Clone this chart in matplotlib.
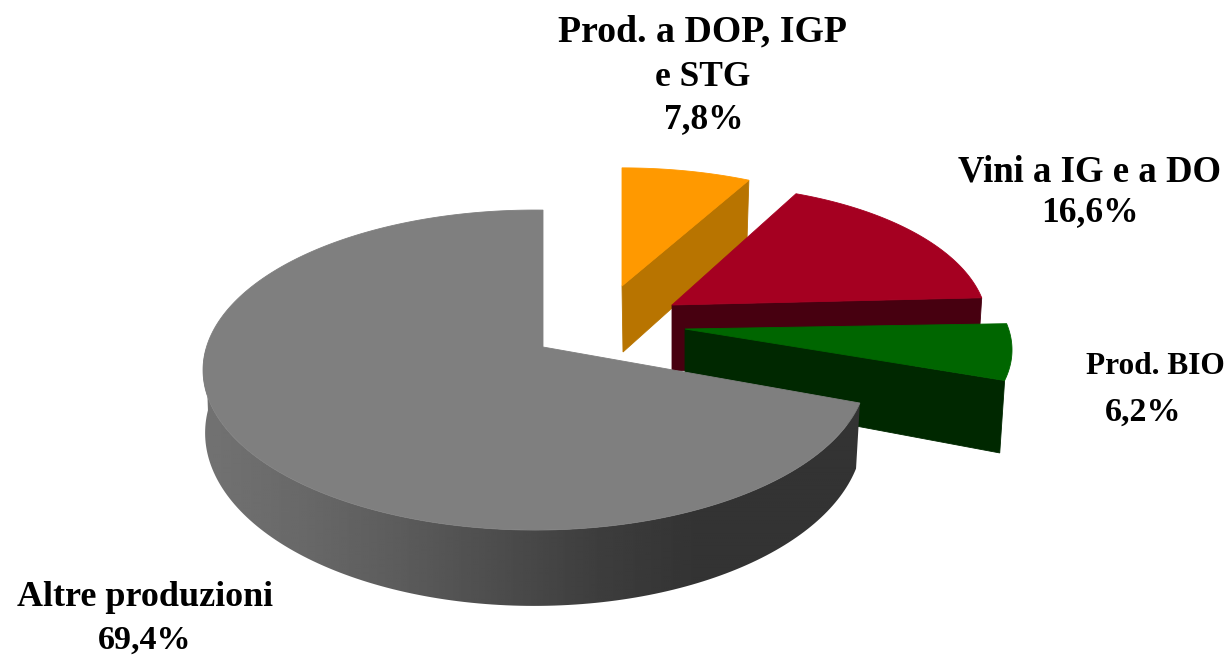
import numpy as np
import matplotlib
matplotlib.use("Agg")
import matplotlib.pyplot as plt
from matplotlib.patches import Polygon

# ---- data ----
categories = ["Prod. a DOP, IGP e STG", "Vini a IG e a DO", "Prod. BIO", "Altre produzioni"]
values = [7.8, 16.6, 6.2, 69.4]
label_lines = [
    ["Prod. a DOP, IGP", "e STG", "7,8%"],
    ["Vini a IG e a DO", "16,6%"],
    ["Prod. BIO", "6,2%"],
    ["Altre produzioni", "69,4%"],
]

# ---- style / layout ----
top_colors = ["#FF9900", "#A50021", "#006600", "#7F7F7F"]
wall_colors = ["#B87400", "#470010", "#002800", None]
# apex of top face x, y, rx, ry; apex of bottom face x, y, rx, ry
geometry = [
    ((622, 286, 307, 138), (623, 352, 300, 145)),
    ((672, 305, 292, 140), (672, 371, 288, 146)),
    ((685, 329, 327, 145), (685, 394, 322, 166)),
    ((543, 347, 332, 160), (542, 408, 329, 173)),
]
boost_u = [0.0, -0.08, 0.0, 0.024]
label_pos = [
    [(702, 32), (703, 77), (704, 120)],
    [(1090, 172), (1090, 213)],
    [(1155, 367), (1143, 412)],
    [(145, 598), (145, 640)],
]
label_size = [
    [27.2, 25.5, 25.5],
    [26.5, 25.5],
    [22.6, 24.5],
    [25.9, 24.5],
]
BOOST_V = 0.144


def disc(theta_deg, b):
    """Unit-circle direction seen through the chart's perspective."""
    t = np.radians(theta_deg)
    u, v = np.cos(t), np.sin(t)
    d = 1 + BOOST_V * v
    v1 = (v + BOOST_V) / d
    u1 = u * np.sqrt(1 - BOOST_V ** 2) / d
    d = 1 + b * u1
    return (u1 + b) / d - b, v1 * np.sqrt(1 - b ** 2) / d - BOOST_V


def project(theta_deg, g, b):
    u, v = disc(theta_deg, b)
    return np.column_stack([g[0] + g[2] * u, g[1] - g[3] * v])


fig = plt.figure(figsize=(12.29, 6.56), dpi=100, facecolor="white")
ax = fig.add_axes([0, 0, 1, 1])
ax.set_axis_off()

# wedge angles, clockwise from twelve o'clock
shares = np.array(values) / np.sum(values) * 360
ends = 90 - np.cumsum(shares)
starts = ends + shares

for i in range(len(values)):
    gt, gb = geometry[i]
    b = boost_u[i]
    arc = np.linspace(starts[i], ends[i], 240)
    top_arc = project(arc, gt, b)
    apex_t = np.array([[gt[0], gt[1]]])
    apex_b = np.array([[gb[0], gb[1]]])
    if wall_colors[i] is not None:
        # radial wall facing the viewer, at the clockwise end of the wedge
        wall = np.vstack([apex_t, top_arc[-1:], project(np.array([ends[i]]), gb, b), apex_b])
        ax.add_patch(Polygon(wall, closed=True, fc=wall_colors[i], ec=wall_colors[i], lw=0.6, zorder=i * 2 + 1))
    else:
        # outer rim, only where it faces the viewer, shaded left to right
        front = arc[arc >= -180]
        rim = np.vstack([project(front, gt, b), project(front, gb, b)[::-1]])
        poly = Polygon(rim, closed=True, fc="none", ec="none", zorder=i * 2 + 1)
        ax.add_patch(poly)
        xs = np.linspace(200, 860, 330)
        shade = np.interp(xs, [200, 300, 400, 500, 600, 700, 860], [0.45, 0.41, 0.36, 0.30, 0.24, 0.20, 0.20])
        im = ax.imshow(shade[None, :], cmap="gray", vmin=0, vmax=1, extent=(200, 860, 620, 340),
                       aspect="auto", zorder=i * 2 + 1, interpolation="bilinear")
        im.set_clip_path(poly)
    face = np.vstack([apex_t, top_arc])
    ax.add_patch(Polygon(face, closed=True, fc=top_colors[i], ec=top_colors[i], lw=0.6, zorder=i * 2 + 2))

for lines, positions, sizes in zip(label_lines, label_pos, label_size):
    for line, (x, y), size in zip(lines, positions, sizes):
        ax.text(x, y, line, ha="center", va="center", fontsize=size, fontweight="bold",
                family="Liberation Serif", color="black", zorder=20)

ax.set_xlim(0, 1229)
ax.set_ylim(656, 0)
fig.savefig("out.png", dpi=100, facecolor="white")
